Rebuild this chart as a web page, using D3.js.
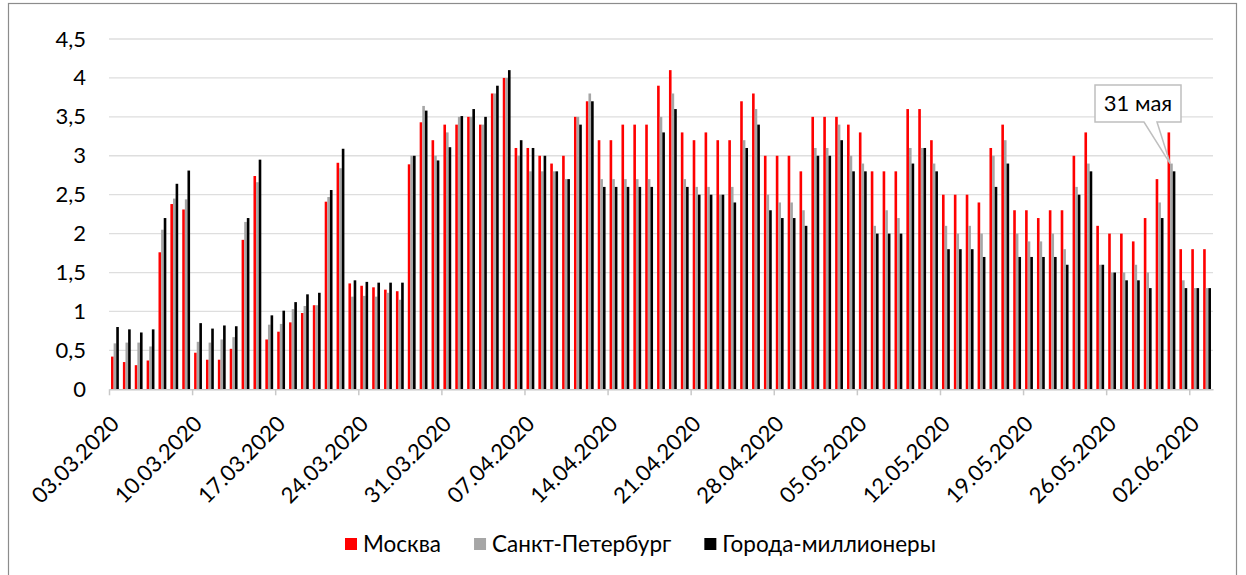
<!DOCTYPE html>
<html>
<head>
<meta charset="utf-8">
<script src="https://cdn.jsdelivr.net/npm/d3@7"></script>
<style>
  body { margin: 0; background: #fff; }
  svg { font-family: Lato, 'Open Sans', sans-serif; }
</style>
</head>
<body>
<svg id="chart"></svg>
<script>
const seriesNames = ['Москва', 'Санкт-Петербург', 'Города-миллионеры']
const seriesKeys = ['m', 's', 'c']
const colors = ['#ff0000', '#a6a6a6', '#000000']

// one bar group per day, 03.03.2020 .. 03.06.2020
const days = d3.utcDay.range(new Date(Date.UTC(2020, 2, 3)), new Date(Date.UTC(2020, 5, 4)))

const moscow = [
  0.42, 0.35, 0.31, 0.37, 1.76, 2.38, 2.31,
  0.47, 0.38, 0.38, 0.52, 1.92, 2.74, 0.64,
  0.74, 0.86, 0.98, 1.08, 2.41, 2.91, 1.36,
  1.33, 1.31, 1.28, 1.26, 2.89, 3.43, 3.2,
  3.4, 3.4, 3.5, 3.4, 3.8, 4.0, 3.1,
  3.1, 3.0, 2.9, 3.0, 3.5, 3.7, 3.2,
  3.2, 3.4, 3.4, 3.4, 3.9, 4.1, 3.3,
  3.2, 3.3, 3.2, 3.2, 3.7, 3.8, 3.0,
  3.0, 3.0, 2.8, 3.5, 3.5, 3.5, 3.4,
  3.3, 2.8, 2.8, 2.8, 3.6, 3.6, 3.2,
  2.5, 2.5, 2.5, 2.4, 3.1, 3.4, 2.3,
  2.3, 2.2, 2.3, 2.3, 3.0, 3.3, 2.1,
  2.0, 2.0, 1.9, 2.2, 2.7, 3.3, 1.8,
  1.8, 1.8
]
const spb = [
  0.59, 0.6, 0.6, 0.55, 2.05, 2.45, 2.44,
  0.61, 0.6, 0.64, 0.67, 2.15, 2.66, 0.83,
  0.84, 1.03, 1.07, 1.08, 2.47, 2.84, 1.19,
  1.2, 1.19, 1.24, 1.15, 3.0, 3.64, 3.0,
  3.3, 3.5, 3.5, 3.4, 3.8, 4.0, 3.0,
  2.8, 2.8, 2.8, 2.7, 3.5, 3.8, 2.7,
  2.7, 2.7, 2.7, 2.7, 3.5, 3.8, 2.7,
  2.6, 2.6, 2.5, 2.6, 3.2, 3.6, 2.5,
  2.4, 2.4, 2.3, 3.1, 3.1, 3.4, 3.0,
  2.9, 2.1, 2.3, 2.2, 3.1, 3.1, 2.9,
  2.1, 2.0, 2.1, 2.0, 3.0, 3.2, 2.0,
  1.9, 1.9, 2.0, 1.8, 2.6, 2.9, 1.6,
  1.5, 1.5, 1.6, 1.5, 2.4, 2.9, 1.4,
  1.3, 1.3
]
const cities = [
  0.8, 0.77, 0.73, 0.77, 2.2, 2.64, 2.81,
  0.85, 0.78, 0.82, 0.81, 2.2, 2.95, 0.95,
  1.01, 1.12, 1.22, 1.24, 2.56, 3.09, 1.4,
  1.38, 1.37, 1.37, 1.37, 3.0, 3.58, 2.94,
  3.11, 3.51, 3.6, 3.5, 3.9, 4.1, 3.2,
  3.1, 3.0, 2.8, 2.7, 3.4, 3.7, 2.6,
  2.6, 2.6, 2.6, 2.6, 3.3, 3.6, 2.6,
  2.5, 2.5, 2.5, 2.4, 3.1, 3.4, 2.3,
  2.2, 2.2, 2.1, 3.0, 3.0, 3.2, 2.8,
  2.8, 2.0, 2.0, 2.0, 2.9, 3.1, 2.8,
  1.8, 1.8, 1.8, 1.7, 2.6, 2.9, 1.7,
  1.7, 1.7, 1.7, 1.6, 2.5, 2.8, 1.6,
  1.5, 1.4, 1.4, 1.3, 2.2, 2.8, 1.3,
  1.3, 1.3
]
const yTicks = [0, 0.5, 1, 1.5, 2, 2.5, 3, 3.5, 4, 4.5]
const calloutText = '31 мая'
const calloutDate = new Date(Date.UTC(2020, 4, 31))

const w = 1246
const h = 575
const padL = 109
const padR = 1213
const padT = 39
const padB = 389.3
const fs = 22

const dataSet = days.map((d, i) => ({ date: d, m: moscow[i], s: spb[i], c: cities[i] }))

const svg = d3.select('#chart')
  .attr('width', w)
  .attr('height', h)

svg.append('rect')
  .attr('x', 8.5).attr('y', 3.5)
  .attr('width', 1228).attr('height', 600)
  .attr('fill', '#fff')
  .attr('stroke', '#8c8c8c')
  .attr('stroke-width', 1.2)

const xScale = d3.scaleUtc()
  .domain([days[0], d3.utcDay.offset(days[days.length - 1], 1)])
  .range([padL, padR])

const dayW = xScale(days[1]) - xScale(days[0])

const x1 = d3.scaleBand()
  .domain(seriesKeys)
  .range([dayW * 0.17, dayW * 0.83])

const yScale = d3.scaleLinear()
  .domain([0, 4.5])
  .range([padB, padT])

// gridlines
svg.append('g')
  .selectAll('line')
  .data(yTicks.slice(1))
  .enter()
  .append('line')
    .attr('x1', padL)
    .attr('x2', padR)
    .attr('y1', d => yScale(d))
    .attr('y2', d => yScale(d))
    .attr('stroke', '#dedede')
    .attr('stroke-width', 1.3)

const yAxis = d3.axisLeft(yScale)
  .tickValues(yTicks)
  .tickFormat(d => String(d).replace('.', ','))
  .tickSize(0)
  .tickPadding(23)
svg.append('g')
  .attr('id', 'y-axis')
  .attr('transform', 'translate(' + padL + ', 0)')
  .call(yAxis)
  .call(g => g.select('.domain').remove())
  .selectAll('text')
    .attr('font-size', fs)
    .attr('font-family', 'Lato, sans-serif')
    .attr('fill', '#000')

// bars
seriesKeys.forEach((k, si) => {
  svg.append('g')
    .selectAll('rect')
    .data(dataSet)
    .enter()
    .append('rect')
      .attr('x', d => xScale(d.date) + x1(k))
      .attr('width', x1.bandwidth())
      .attr('y', d => yScale(d[k]))
      .attr('height', d => yScale(0) - yScale(d[k]))
      .attr('fill', colors[si])
})

const xAxis = d3.axisBottom(xScale)
  .tickValues(days.filter((d, i) => i % 7 === 0))
  .tickFormat(d3.utcFormat('%d.%m.%Y'))
  .tickSize(6)
  .tickSizeOuter(0)
svg.append('g')
  .attr('id', 'x-axis')
  .attr('transform', 'translate(0, ' + padB + ')')
  .call(xAxis)
  .call(g => g.select('.domain').attr('stroke', '#c8c8c8').attr('stroke-width', 1.5))
  .call(g => g.selectAll('.tick line').attr('stroke', '#c8c8c8').attr('stroke-width', 1.5))
  .selectAll('text')
    .attr('x', 0).attr('y', 0).attr('dy', 0)
    .attr('transform', 'translate(11, 36) rotate(-45)')
    .style('text-anchor', 'end')
    .attr('font-size', fs)
    .attr('font-family', 'Lato, sans-serif')
    .attr('fill', '#000')

// callout
const tipX = xScale(calloutDate) + x1('s')
const tipY = yScale(spb[days.findIndex(d => +d === +calloutDate)])
const bx0 = 1095, bx1 = 1181, by0 = 85, by1 = 122
svg.append('path')
  .attr('d', `M${bx0},${by0}H${bx1}V${by1}H1157L${tipX},${tipY}L1144,${by1}H${bx0}Z`)
  .attr('fill', '#fff')
  .attr('stroke', '#bfbfbf')
  .attr('stroke-width', 1.5)
svg.append('text')
  .attr('x', (bx0 + bx1) / 2)
  .attr('y', 111)
  .attr('text-anchor', 'middle')
  .attr('font-size', fs)
  .text(calloutText)

// legend
let lx = 345
seriesNames.forEach((name, i) => {
  svg.append('rect')
    .attr('x', lx).attr('y', 538)
    .attr('width', 12).attr('height', 12)
    .attr('fill', colors[i])
  const t = svg.append('text')
    .attr('x', lx + 18)
    .attr('y', 552)
    .attr('font-size', 22.5)
    .text(name)
  lx += 18 + t.node().getComputedTextLength() + 33
})
</script>
</body>
</html>
